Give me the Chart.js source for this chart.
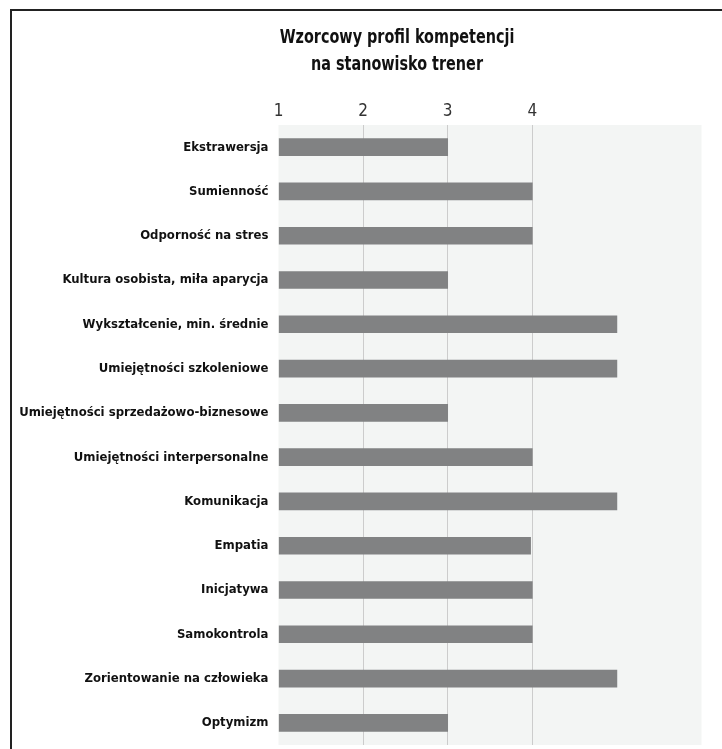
<!DOCTYPE html>
<html>
<head>
<meta charset="utf-8">
<script src="https://cdn.jsdelivr.net/npm/chart.js@4"></script>
<style>
  html, body { margin: 0; padding: 0; background: #fff; overflow: hidden; }
  #wrap { position: relative; width: 722px; height: 749px; }
  #frame { position: absolute; left: 10px; top: 9px; width: 800px; height: 800px;
           border-top: 2px solid #222; border-left: 2px solid #222; pointer-events: none; }
  #title { position: absolute; left: 197px; top: 22.6px; width: 400px; text-align: center;
           font-family: "DejaVu Sans Condensed", "DejaVu Sans", sans-serif; font-weight: bold;
           font-size: 20px; line-height: 27px; color: #111;
           transform: scaleX(0.8); transform-origin: 200px 0; }
</style>
</head>
<body>
<div id="wrap">
  <canvas id="chart" width="722" height="749"></canvas>
  <div id="title">Wzorcowy profil kompetencji<br>na stanowisko trener</div>
  <div id="frame"></div>
</div>
<script>
const FONT = '"Liberation Sans Narrow", "DejaVu Sans Condensed", "Arial Narrow", sans-serif';

// competencies (top to bottom)
const categories = [
  'Ekstrawersja',
  'Sumienność',
  'Odporność na stres',
  'Kultura osobista, miła aparycja',
  'Wykształcenie, min. średnie',
  'Umiejętności szkoleniowe',
  'Umiejętności sprzedażowo-biznesowe',
  'Umiejętności interpersonalne',
  'Komunikacja',
  'Empatia',
  'Inicjatywa',
  'Samokontrola',
  'Zorientowanie na człowieka',
  'Optymizm'
];

// required level (scale 1-6)
const levels = [3, 4, 4, 3, 5, 5, 3, 4, 5, 3.98, 4, 4, 5, 3];

// axis labels shown on top
const tickLabels = [1, 2, 3, 4];
const gridValues = [2, 3, 4];

const plotBg = {
  id: 'plotBg',
  beforeDraw(chart) {
    const a = chart.chartArea;
    const ctx = chart.ctx;
    ctx.save();
    ctx.fillStyle = '#f3f5f4';
    ctx.fillRect(a.left, a.top, a.right - a.left, a.bottom - a.top);
    ctx.restore();
  }
};

new Chart(document.getElementById('chart').getContext('2d'), {
  type: 'bar',
  data: {
    labels: categories,
    datasets: [{
      data: levels,
      base: 1,
      backgroundColor: '#818283',
      barThickness: 17,
      borderWidth: 0
    }]
  },
  options: {
    indexAxis: 'y',
    responsive: false,
    animation: false,
    layout: { padding: { left: 10, right: 20.5, top: 0, bottom: 4 } },
    plugins: {
      legend: { display: false },
      tooltip: { enabled: false },
      title: { display: false }
    },
    scales: {
      x: {
        position: 'top',
        min: 1,
        max: 6,
        afterFit(scale) { scale.height = 125; },
        ticks: {
          stepSize: 1,
          padding: 3,
          color: '#333',
          font: { family: FONT, size: 17, weight: 'normal' },
          callback: v => tickLabels.includes(v) ? String(v) : ''
        },
        grid: {
          drawTicks: false,
          lineWidth: 1,
          color: c => gridValues.includes(c.tick && c.tick.value) ? '#cccccc' : 'rgba(0,0,0,0)'
        },
        border: { display: false }
      },
      y: {
        afterFit(scale) {
          scale.width = 268.5;
          scale.paddingTop = 0;
          scale.paddingBottom = 0;
        },
        ticks: {
          padding: 10,
          color: '#111',
          font: { family: FONT, size: 13, weight: 'bold' }
        },
        grid: { display: false, drawTicks: false },
        border: { display: false }
      }
    }
  },
  plugins: [plotBg]
});
</script>
</body>
</html>
